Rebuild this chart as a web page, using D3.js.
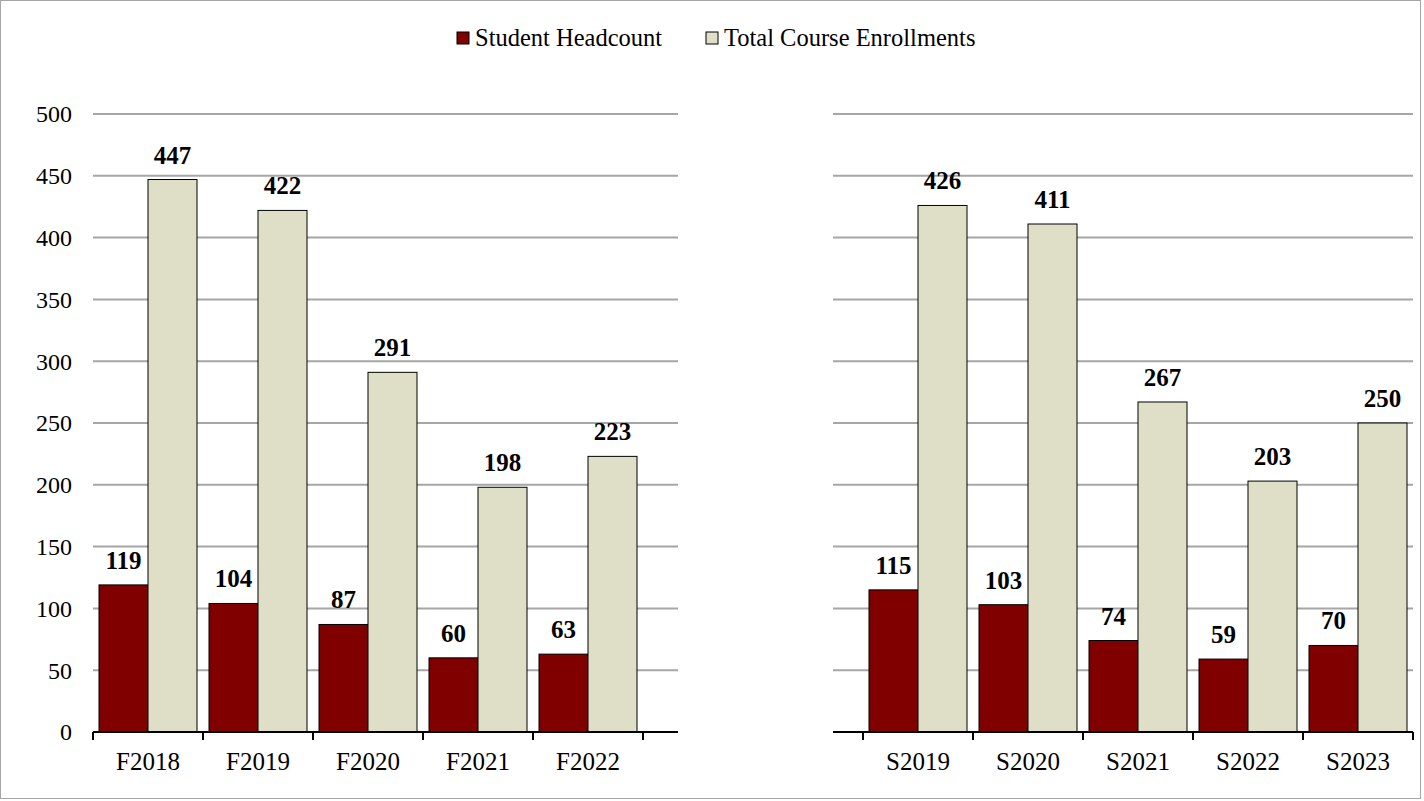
<!DOCTYPE html>
<html>
<head>
<meta charset="utf-8">
<script src="https://cdn.jsdelivr.net/npm/d3@7"></script>
<style>
  body { margin: 0; background: #fff; }
  text { font-family: "Liberation Serif", "Times New Roman", serif; }
</style>
</head>
<body>
<div id="chart"></div>
<script>
// data
var seriesNames = ['Student Headcount', 'Total Course Enrollments'];
var seriesColors = ['#800000', '#DFDFC7'];
var fallTerms = ['F2018', 'F2019', 'F2020', 'F2021', 'F2022'];
var fallHeadcount = [119, 104, 87, 60, 63];
var fallEnrollments = [447, 422, 291, 198, 223];
var springTerms = ['S2019', 'S2020', 'S2021', 'S2022', 'S2023'];
var springHeadcount = [115, 103, 74, 59, 70];
var springEnrollments = [426, 411, 267, 203, 250];
var yTicks = [0, 50, 100, 150, 200, 250, 300, 350, 400, 450, 500];

var width = 1424;
var height = 801;

var svg = d3.select('#chart').append('svg')
  .attr('width', width)
  .attr('height', height);

svg.append('rect')
  .attr('x', 0.5).attr('y', 0.5)
  .attr('width', 1420).attr('height', 798)
  .attr('fill', '#fff')
  .attr('stroke', '#a6a6a6');

var y = d3.scaleLinear().domain([0, 500]).range([732, 114]);

// one panel = gridlines + bars + axis
function drawPanel(terms, headcount, enrollments, bandStart, bandEnd, lineStart, lineEnd, showY) {
  var g = svg.append('g');
  var x0 = d3.scaleBand().domain(terms).range([bandStart, bandEnd]);
  var x1 = d3.scaleBand().domain(seriesNames).range([0, x0.bandwidth()]).paddingOuter(6 / 49);

  // gridlines
  g.selectAll('line.grid')
    .data(yTicks.filter(function (d) { return d > 0; }))
    .enter().append('line')
    .attr('class', 'grid')
    .attr('x1', lineStart).attr('x2', lineEnd)
    .attr('y1', function (d) { return y(d); })
    .attr('y2', function (d) { return y(d); })
    .attr('stroke', '#a6a6a6')
    .attr('stroke-width', 2);

  if (showY) {
    g.selectAll('text.ytick')
      .data(yTicks)
      .enter().append('text')
      .attr('class', 'ytick')
      .attr('x', 72)
      .attr('y', function (d) { return y(d); })
      .attr('dy', '0.35em')
      .attr('text-anchor', 'end')
      .style('font-size', '24px')
      .text(function (d) { return d; });
  }

  var rows = terms.map(function (t, i) {
    return { term: t, values: [headcount[i], enrollments[i]] };
  });

  var groups = g.selectAll('g.term')
    .data(rows)
    .enter().append('g')
    .attr('class', 'term')
    .attr('transform', function (d) { return 'translate(' + x0(d.term) + ',0)'; });

  groups.selectAll('rect')
    .data(function (d) { return d.values.map(function (v, j) { return { key: seriesNames[j], value: v, i: j }; }); })
    .enter().append('rect')
    .attr('x', function (d) { return x1(d.key); })
    .attr('y', function (d) { return y(d.value); })
    .attr('width', x1.bandwidth())
    .attr('height', function (d) { return y(0) - y(d.value); })
    .attr('fill', function (d) { return seriesColors[d.i]; })
    .attr('stroke', '#000')
    .attr('stroke-width', 1);

  groups.selectAll('text.val')
    .data(function (d) { return d.values.map(function (v, j) { return { key: seriesNames[j], value: v }; }); })
    .enter().append('text')
    .attr('class', 'val')
    .attr('x', function (d) { return x1(d.key) + x1.bandwidth() / 2; })
    .attr('y', function (d) { return y(d.value) - 16; })
    .attr('text-anchor', 'middle')
    .style('font-size', '25px')
    .style('font-weight', 'bold')
    .text(function (d) { return d.value; });

  // x axis
  g.append('line')
    .attr('x1', lineStart).attr('x2', lineEnd)
    .attr('y1', y(0)).attr('y2', y(0))
    .attr('stroke', '#000')
    .attr('stroke-width', 2);

  var tickPos = terms.map(function (t) { return x0(t); }).concat([bandEnd]);
  g.selectAll('line.xtick')
    .data(tickPos)
    .enter().append('line')
    .attr('class', 'xtick')
    .attr('x1', function (d) { return d; })
    .attr('x2', function (d) { return d; })
    .attr('y1', y(0)).attr('y2', y(0) + 8)
    .attr('stroke', '#000')
    .attr('stroke-width', 2);

  g.selectAll('text.xlabel')
    .data(terms)
    .enter().append('text')
    .attr('class', 'xlabel')
    .attr('x', function (d) { return x0(d) + x0.bandwidth() / 2; })
    .attr('y', 770)
    .attr('text-anchor', 'middle')
    .style('font-size', '25px')
    .text(function (d) { return d; });
}

drawPanel(fallTerms, fallHeadcount, fallEnrollments, 93, 643, 93, 678, true);
drawPanel(springTerms, springHeadcount, springEnrollments, 863, 1413, 833, 1413, false);

// legend
var legend = svg.append('g');
var legendX = [457, 706];
seriesNames.forEach(function (name, i) {
  legend.append('rect')
    .attr('x', legendX[i]).attr('y', 32)
    .attr('width', 12).attr('height', 12)
    .attr('fill', seriesColors[i])
    .attr('stroke', '#000')
    .attr('stroke-width', 1);
  legend.append('text')
    .attr('x', legendX[i] + 18)
    .attr('y', 46)
    .style('font-size', '24.5px')
    .text(name);
});
</script>
</body>
</html>
